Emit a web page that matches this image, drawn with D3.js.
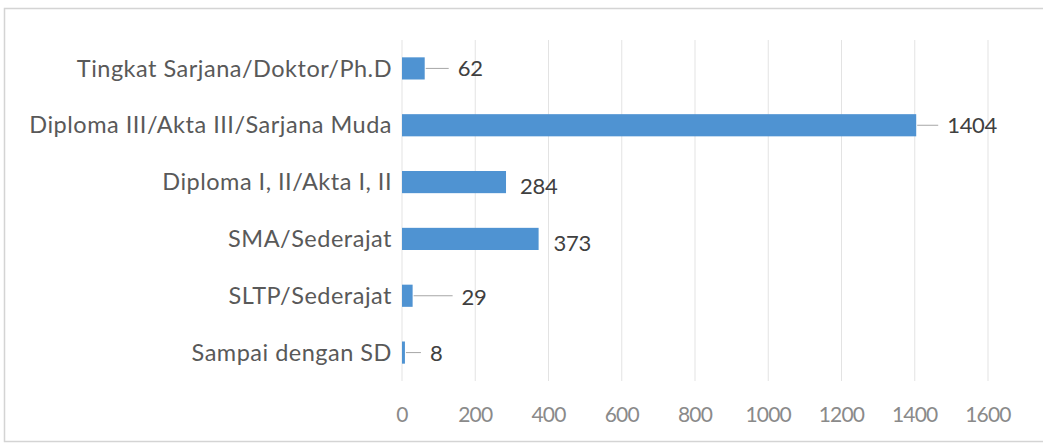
<!DOCTYPE html>
<html>
<head>
<meta charset="utf-8">
<script src="https://cdn.jsdelivr.net/npm/d3@7"></script>
<style>
  body { margin: 0; background: #fff; }
  svg { display: block; }
</style>
</head>
<body>
<div class="chart"></div>
<script>
const categories = [
  "Tingkat Sarjana/Doktor/Ph.D",
  "Diploma III/Akta III/Sarjana Muda",
  "Diploma I, II/Akta I, II",
  "SMA/Sederajat",
  "SLTP/Sederajat",
  "Sampai dengan SD"
];
const values = [62, 1404, 284, 373, 29, 8];
const xTicks = [0, 200, 400, 600, 800, 1000, 1200, 1400, 1600];

// hand-placed data labels (offset from bar end, like in the original sheet)
const labelDx = [33, 31, 14, 15, 49, 25];
const labelDy = [0, 0, 4, 4, 2, 1];

const data = categories.map((c, i) => ({ cat: c, value: values[i], dx: labelDx[i], dy: labelDy[i] }));

const svg = d3.select(".chart")
  .append("svg")
    .attr("width", 1043)
    .attr("height", 443);

// chart frame
svg.append("rect")
  .attr("x", 4.5)
  .attr("y", 8.5)
  .attr("width", 1060)
  .attr("height", 433)
  .attr("fill", "#fff")
  .attr("stroke", "#d4d4d4")
  .attr("stroke-width", 1.5);

const xScale = d3.scaleLinear()
  .domain([0, 1600])
  .range([402, 988]);

const yScale = d3.scaleBand()
  .domain(categories)
  .range([40, 381])
  .paddingInner(0.61)
  .paddingOuter(0.305);

// gridlines
svg.append("g")
  .selectAll("line")
  .data(xTicks)
  .join("line")
    .attr("x1", d => xScale(d))
    .attr("x2", d => xScale(d))
    .attr("y1", 40)
    .attr("y2", 381)
    .attr("stroke", "#e3e3e3")
    .attr("stroke-width", 1);

// x tick labels
svg.append("g")
  .selectAll("text")
  .data(xTicks)
  .join("text")
    .text(d => d)
    .attr("x", d => xScale(d))
    .attr("y", 415)
    .attr("dy", "0.35em")
    .attr("text-anchor", "middle")
    .style("font-family", "Lato, sans-serif")
    .style("font-size", "21px")
    .style("letter-spacing", "-0.8px")
    .attr("fill", "#8a8a8a");

// category labels
svg.append("g")
  .selectAll("text")
  .data(categories)
  .join("text")
    .text(d => d)
    .attr("x", 392)
    .attr("y", d => yScale(d) + yScale.bandwidth() / 2)
    .attr("dy", "0.35em")
    .attr("text-anchor", "end")
    .style("font-family", "Lato, sans-serif")
    .style("font-size", "23.5px")
    .style("letter-spacing", "0.5px")
    .attr("fill", "#595959");

const row = svg.append("g")
  .selectAll("g")
  .data(data)
  .join("g")
    .attr("transform", d => `translate(0, ${yScale(d.cat)})`);

row.append("rect")
  .attr("x", xScale(0))
  .attr("y", 0)
  .attr("width", d => Math.max(2, xScale(d.value) - xScale(0)))
  .attr("height", yScale.bandwidth())
  .attr("fill", "#4f93d2");

// leader lines for labels pushed away from the bar
row.filter(d => d.dx > 20)
  .append("line")
    .attr("x1", d => xScale(d.value) + 1)
    .attr("x2", d => xScale(d.value) + d.dx - 9)
    .attr("y1", yScale.bandwidth() / 2)
    .attr("y2", yScale.bandwidth() / 2)
    .attr("stroke", "#a6a6a6")
    .attr("stroke-width", 1);

row.append("text")
  .text(d => d.value)
  .attr("x", d => xScale(d.value) + d.dx)
  .attr("y", d => yScale.bandwidth() / 2 + d.dy)
  .attr("dy", "0.35em")
  .style("font-family", "Lato, sans-serif")
  .style("font-size", "22px")
  .style("letter-spacing", "-0.3px")
  .attr("fill", "#404040");
</script>
</body>
</html>
